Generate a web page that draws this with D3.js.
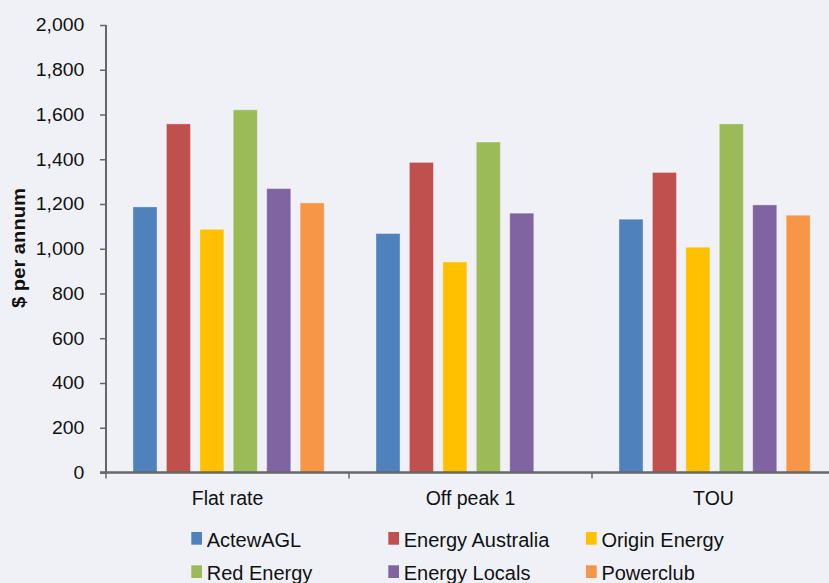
<!DOCTYPE html>
<html>
<head>
<meta charset="utf-8">
<script src="https://cdn.jsdelivr.net/npm/d3@7"></script>
<style>
  html, body { margin: 0; padding: 0; background: #f0f1f7; }
  svg { display: block; font-family: "Liberation Sans", Arial, Helvetica, sans-serif; }
</style>
</head>
<body>
<svg id="chart" width="829" height="583"></svg>
<script>
const categories = ["Flat rate", "Off peak 1", "TOU"];
const series = ["ActewAGL", "Energy Australia", "Origin Energy", "Red Energy", "Energy Locals", "Powerclub"];
const colors = ["#4f81bd", "#c0504d", "#ffc000", "#9bbb59", "#8064a2", "#f79646"];
const actewAGL        = [1187, 1068, 1132];
const energyAustralia = [1558, 1386, 1341];
const originEnergy    = [1087, 941, 1007];
const redEnergy       = [1621, 1477, 1558];
const energyLocals    = [1269, 1159, 1196];
const powerclub       = [1205, null, 1150];
const yTicks = [0, 200, 400, 600, 800, 1000, 1200, 1400, 1600, 1800, 2000];
const yTitle = "$ per annum";

const values = [actewAGL, energyAustralia, originEnergy, redEnergy, energyLocals, powerclub];

const svg = d3.select("#chart");
const mLeft = 106, mRight = 835, mTop = 25, mBottom = 472.5;

const x0 = d3.scaleBand().domain(categories).range([mLeft, mRight]).padding(0);
const bw = x0.bandwidth();
const x1 = d3.scaleBand().domain(series).range([bw * 0.111, bw * 0.898]).paddingInner(0.28).paddingOuter(0);
const y = d3.scaleLinear().domain([0, 2000]).range([mBottom, mTop]);
const color = d3.scaleOrdinal().domain(series).range(colors);

// bars
const groups = svg.append("g").selectAll("g")
  .data(categories)
  .join("g")
  .attr("transform", d => `translate(${x0(d)},0)`);

groups.selectAll("rect")
  .data((c, ci) => series.map((s, si) => ({ s, v: values[si][ci] })).filter(d => d.v != null))
  .join("rect")
  .attr("x", d => x1(d.s))
  .attr("width", x1.bandwidth())
  .attr("y", d => y(d.v))
  .attr("height", d => y(0) - y(d.v))
  .attr("fill", d => color(d.s))
  .attr("stroke", "rgba(255,255,255,0.35)")
  .attr("stroke-width", 1);

// y axis
const yAxis = svg.append("g")
  .attr("transform", `translate(${mLeft},0)`)
  .call(d3.axisLeft(y).tickValues(yTicks).tickFormat(d3.format(",")).tickSize(6).tickPadding(14));
yAxis.select(".domain").attr("stroke", "#666").attr("stroke-width", 2).attr("d", `M0,${mTop}V${mBottom}`);
yAxis.selectAll(".tick line").attr("stroke", "#666").attr("stroke-width", 1.5);
yAxis.selectAll(".tick text")
  .attr("font-size", "18px")
  .attr("fill", "#111")
  .attr("transform", "scale(1.08,1)");

// x axis
const xAxis = svg.append("g")
  .attr("transform", `translate(0,${mBottom})`);
xAxis.append("line")
  .attr("x1", mLeft - 6).attr("x2", mRight)
  .attr("stroke", "#666").attr("stroke-width", 2.5);
const boundaries = [mLeft].concat(categories.map(c => x0(c) + bw));
xAxis.selectAll("line.tk")
  .data(boundaries)
  .join("line")
  .attr("class", "tk")
  .attr("x1", d => d).attr("x2", d => d)
  .attr("y1", 0).attr("y2", 6)
  .attr("stroke", "#666").attr("stroke-width", 1.5);
xAxis.selectAll("text")
  .data(categories)
  .join("text")
  .attr("x", d => x0(d) + bw / 2)
  .attr("y", 32)
  .attr("text-anchor", "middle")
  .attr("font-size", "19.5px")
  .attr("fill", "#111")
  .text(d => d);

// y title
svg.append("text")
  .attr("transform", `translate(25,248) rotate(-90)`)
  .attr("text-anchor", "middle")
  .attr("font-size", "17.5px")
  .attr("font-weight", "bold")
  .attr("fill", "#111")
  .attr("textLength", 120)
  .attr("lengthAdjust", "spacingAndGlyphs")
  .text(yTitle);

// legend
const colX = [191.3, 388.3, 586];
const rowY = [546.7, 580];
const legend = svg.append("g").selectAll("g")
  .data(series)
  .join("g")
  .attr("transform", (d, i) => `translate(${colX[i % 3]},${rowY[Math.floor(i / 3)]})`);
legend.append("rect")
  .attr("x", 0).attr("y", -14.7)
  .attr("width", 10.7).attr("height", 12.7)
  .attr("fill", d => color(d));
legend.append("text")
  .attr("x", 15.4).attr("y", 0)
  .attr("font-size", "20px")
  .attr("fill", "#111")
  .text(d => d);
</script>
</body>
</html>
